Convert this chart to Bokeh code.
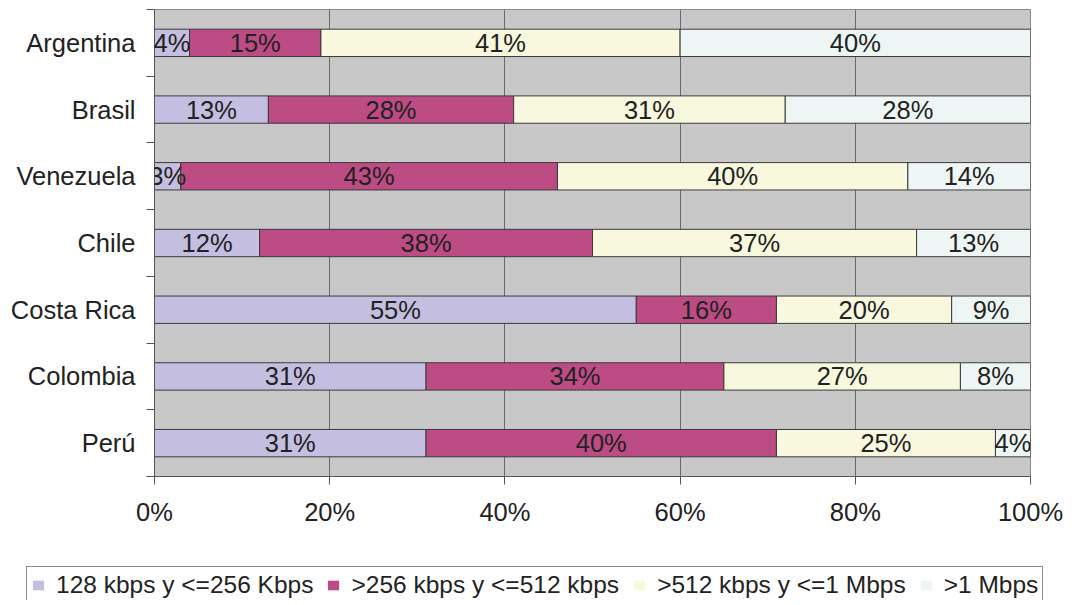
import numpy as np
from bokeh.plotting import figure
from bokeh.layouts import column
from bokeh.models import (ColumnDataSource, Range1d, FixedTicker, PrintfTickFormatter,
                          Legend, LegendItem, LabelSet)
from bokeh.core.properties import value
from bokeh.embed import file_html
from bokeh.resources import INLINE

countries = ["Argentina", "Brasil", "Venezuela", "Chile", "Costa Rica", "Colombia", "Perú"]
series = ["128 kbps y <=256 Kbps", ">256 kbps y <=512 kbps", ">512 kbps y <=1 Mbps", ">1 Mbps"]
s1 = [4, 13, 3, 12, 55, 31, 31]
s2 = [15, 28, 43, 38, 16, 34, 40]
s3 = [41, 31, 40, 37, 20, 27, 25]
s4 = [40, 28, 14, 13, 9, 8, 4]
x_ticks = [0, 20, 40, 60, 80, 100]

colors = ["#C4BFE0", "#BD4B84", "#F8F8DE", "#EEF6F5"]
FONT = "Liberation Sans"
TXT = "#222222"
FS = "25.5px"

n = len(countries)
ypos = [i + 0.5 for i in range(n)]
keys = ["s1", "s2", "s3", "s4"]
data = dict(country=countries, y=ypos, s1=s1, s2=s2, s3=s3, s4=s4)
source = ColumnDataSource(data)

p = figure(width=1064, height=540, output_backend="svg", toolbar_location=None,
           x_range=Range1d(0, 100), y_range=Range1d(n, 0),
           min_border_left=154, min_border_right=34, min_border_top=9, min_border_bottom=64)
p.frame_align = False
p.background_fill_color = "#C8C8C9"
p.border_fill_color = "white"
p.outline_line_color = "#8a8a8a"

renderers = p.hbar_stack(keys, y="y", height=0.41, color=colors, source=source,
                         line_color="#3a3a3a", line_width=1)

# labels
arr = np.array([s1, s2, s3, s4], dtype=float)
cum = np.cumsum(arr, axis=0)
lx, ly, lt = [], [], []
for k in range(arr.shape[0]):
    for i in range(n):
        lx.append(cum[k, i] - arr[k, i] / 2)
        ly.append(ypos[i])
        lt.append(f"{int(arr[k, i])}%")
lsrc = ColumnDataSource(dict(x=lx, y=ly, t=lt))
labels = LabelSet(x="x", y="y", text="t", source=lsrc, text_align="center",
                  text_baseline="middle", text_font=value(FONT), text_font_size=value(FS),
                  text_color=TXT)
p.add_layout(labels)

# x axis
p.xaxis.ticker = FixedTicker(ticks=x_ticks)
p.xaxis.formatter = PrintfTickFormatter(format="%d%%")
p.xaxis.major_label_text_font = FONT
p.xaxis.major_label_text_font_size = FS
p.xaxis.major_label_text_color = TXT
p.xaxis.major_label_standoff = 13
p.xaxis.major_tick_out = 8
p.xaxis.major_tick_in = 0
p.xaxis.minor_tick_line_color = None
p.xaxis.axis_line_color = "#555555"
p.xaxis.major_tick_line_color = "#555555"

# y axis
p.yaxis.ticker = FixedTicker(ticks=ypos, minor_ticks=list(range(n + 1)))
p.yaxis.major_label_overrides = {y: c for y, c in zip(ypos, countries)}
p.yaxis.major_label_text_font = FONT
p.yaxis.major_label_text_font_size = FS
p.yaxis.major_label_text_color = TXT
p.yaxis.major_tick_line_color = None
p.yaxis.major_tick_out = 0
p.yaxis.major_tick_in = 0
p.yaxis.major_label_standoff = 11
p.yaxis.minor_tick_out = 8
p.yaxis.minor_tick_in = 0
p.yaxis.minor_tick_line_color = "#555555"
p.yaxis.axis_line_color = "#555555"

p.xgrid.ticker = FixedTicker(ticks=x_ticks)
p.xgrid.grid_line_color = "#6a6a6a"
p.xgrid.grid_line_width = 1
p.ygrid.grid_line_color = None

# legend strip (its own figure, the bars themselves fall outside its ranges)
lf = figure(width=1064, height=60, output_backend="svg", toolbar_location=None,
            x_range=Range1d(200, 201), y_range=Range1d(200, 201),
            x_axis_location=None, y_axis_location=None,
            min_border_left=0, min_border_right=0, min_border_top=0, min_border_bottom=0)
lf.frame_align = False
lf.outline_line_color = None
lf.grid.grid_line_color = None
lrs = lf.hbar_stack(keys, y="y", height=0.41, color=colors, source=source,
                    line_color=None)
items = [LegendItem(label=s, renderers=[r]) for s, r in zip(series, lrs)]
legend = Legend(items=items, orientation="horizontal", location="top_left",
                label_text_font=FONT, label_text_font_size="24.5px", label_text_color=TXT,
                glyph_width=14, glyph_height=12, label_standoff=11, spacing=13,
                padding=4, margin=26, border_line_color="#222222", border_line_width=1,
                background_fill_color="white", background_fill_alpha=1,
                label_height=28)
lf.add_layout(legend, "center")

layout = column(p, lf, spacing=0)
open("out.html", "w").write(file_html(layout, INLINE))
